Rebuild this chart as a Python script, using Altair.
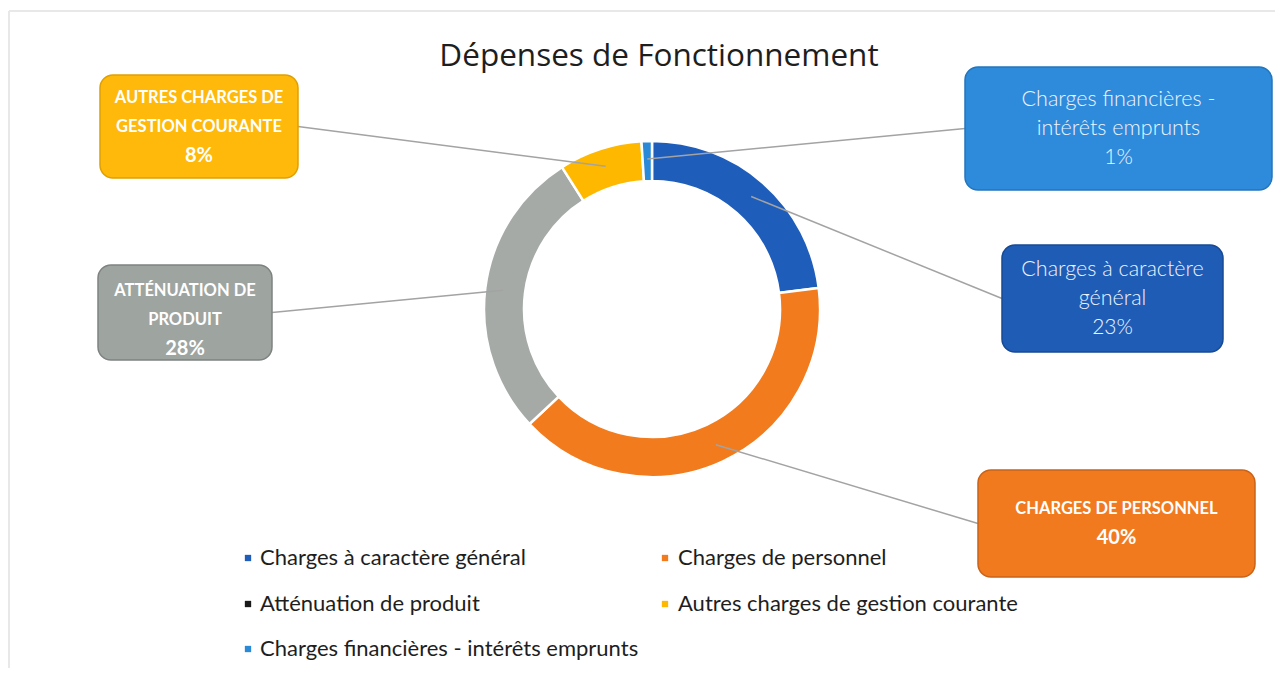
import math
import altair as alt
import pandas as pd

# ---------------- data ----------------
categories = [
    "Charges à caractère général",
    "Charges de personnel",
    "Atténuation de produit",
    "Autres charges de gestion courante",
    "Charges financières - intérêts emprunts",
]
shares = [23, 40, 28, 8, 1]
box_lines = [
    ["Charges à caractère", "général"],
    ["CHARGES DE PERSONNEL"],
    ["ATTÉNUATION DE", "PRODUIT"],
    ["AUTRES CHARGES DE", "GESTION COURANTE"],
    ["Charges financières -", "intérêts emprunts"],
]
title_text = "Dépenses de Fonctionnement"

# ---------------- styles / layout ----------------
slice_colors = ["#1F5DBA", "#F27B1D", "#A5AAA7", "#FFB800", "#2B8AD8"]
legend_colors = ["#1F5DBA", "#F27B1D", "#1A1A1A", "#FFB800", "#2B8AD8"]
box_fill = ["#1F5CB6", "#F27A1E", "#9EA4A0", "#FFB90A", "#2E8BDB"]
box_stroke = ["#174A94", "#C9631A", "#7E8380", "#E0A000", "#2375BD"]
box_style = ["plain", "caps", "caps", "caps", "plain"]
boxes = [
    (1002, 245, 1223, 352),
    (978, 470, 1255, 577),
    (98, 265, 272, 360),
    (100, 75, 298, 178),
    (965, 67, 1272, 190),
]
box_text_dy = [0, 0, 7, 0, 0]
W, H = 1267, 660
CX, CY = 652, 309
R_OUT, R_IN, R_LEAD = 168, 128, 150
LINE_H = 29
FONT = "Lato"

xs = alt.Scale(domain=[8, 8 + W], nice=False, zero=False)
ys = alt.Scale(domain=[8, 8 + H], nice=False, zero=False, reverse=True)


def X(f):
    return alt.X(f, type="quantitative", scale=xs, axis=None)


def Y(f):
    return alt.Y(f, type="quantitative", scale=ys, axis=None)


# ---------------- derived tables ----------------
slices = pd.DataFrame({"cat": categories, "share": shares, "idx": range(len(categories))})

lead_rows, box_rows, txt_plain, txt_caps, txt_pct = [], [], [], [], []
cum = 0
for i, (cat, s) in enumerate(zip(categories, shares)):
    mid = (cum + s / 2) / 100 * 2 * math.pi
    cum += s
    ix = CX + R_LEAD * math.sin(mid)
    iy = CY - R_LEAD * math.cos(mid)
    x1, y1, x2, y2 = boxes[i]
    bcx, bcy = (x1 + x2) / 2, (y1 + y2) / 2
    ox = x1 if bcx > CX else x2
    lead_rows.append({"x": ix, "y": iy, "x2": ox, "y2": bcy})
    box_rows.append({"cat": cat, "x": x1, "y": y1, "x2": x2, "y2": y2,
                     "fill": box_fill[i], "stroke": box_stroke[i]})
    lines = box_lines[i] + [f"{s}%"]
    n = len(lines)
    for k, t in enumerate(lines):
        ty = bcy + box_text_dy[i] + (k - (n - 1) / 2) * LINE_H
        row = {"x": bcx, "y": ty, "t": t}
        if k == n - 1:
            row["style"] = box_style[i]
            txt_pct.append(row)
        elif box_style[i] == "plain":
            txt_plain.append(row)
        else:
            txt_caps.append(row)

leg_mx = [248, 665]
leg_tx = [260, 678]
leg_y = [558, 604, 649]
legend = pd.DataFrame({
    "cat": categories,
    "mx": [leg_mx[i % 2] for i in range(len(categories))],
    "tx": [leg_tx[i % 2] for i in range(len(categories))],
    "y": [leg_y[i // 2] for i in range(len(categories))],
    "col": legend_colors,
})

pct_plain = pd.DataFrame([r for r in txt_pct if r["style"] == "plain"])
pct_caps = pd.DataFrame([r for r in txt_pct if r["style"] == "caps"])

# ---------------- layers ----------------
frame = alt.Chart(pd.DataFrame({"x": [9, 9], "y": [11, 11], "x2": [8 + W, 9], "y2": [11, 8 + H]})).mark_rule(
    color="#E8E8E8", strokeWidth=2
).encode(x=X("x"), y=Y("y"), x2=alt.X2("x2"), y2=alt.Y2("y2"))

donut = alt.Chart(slices).mark_arc(
    innerRadius=R_IN, outerRadius=R_OUT, stroke="white", strokeWidth=2.5
).encode(
    theta=alt.Theta("share:Q", stack=True),
    order=alt.Order("idx:Q"),
    color=alt.Color("cat:N", scale=alt.Scale(domain=categories, range=slice_colors), legend=None),
    x=alt.value(CX - 8),
    y=alt.value(CY - 8),
)

leads = alt.Chart(pd.DataFrame(lead_rows)).mark_rule(color="#A3A3A3", strokeWidth=1.5).encode(
    x=X("x"), y=Y("y"), x2=alt.X2("x2"), y2=alt.Y2("y2")
)

box_marks = alt.Chart(pd.DataFrame(box_rows)).mark_rect(cornerRadius=13, strokeWidth=1.5).encode(
    x=X("x"), y=Y("y"), x2=alt.X2("x2"), y2=alt.Y2("y2"),
    fill=alt.Fill("fill:N", scale=None),
    stroke=alt.Stroke("stroke:N", scale=None),
)

t_plain = alt.Chart(pd.DataFrame(txt_plain)).mark_text(
    font=FONT, fontSize=21.5, fontWeight=300, color="#EEF4FF", align="center", baseline="middle"
).encode(x=X("x"), y=Y("y"), text="t:N")

t_caps = alt.Chart(pd.DataFrame(txt_caps)).mark_text(
    font=FONT, fontSize=16.5, fontWeight="bold", color="white", align="center", baseline="middle"
).encode(x=X("x"), y=Y("y"), text="t:N")

t_pct_plain = alt.Chart(pct_plain).mark_text(
    font=FONT, fontSize=21, fontWeight=300, color="#EEF4FF", align="center", baseline="middle"
).encode(x=X("x"), y=Y("y"), text="t:N")

t_pct_caps = alt.Chart(pct_caps).mark_text(
    font=FONT, fontSize=20, fontWeight="bold", color="white", align="center", baseline="middle"
).encode(x=X("x"), y=Y("y"), text="t:N")

title = alt.Chart(pd.DataFrame({"x": [659], "y": [57], "t": [title_text]})).mark_text(
    font="Open Sans", fontSize=31.5, color="#1E1E1E", align="center", baseline="middle"
).encode(x=X("x"), y=Y("y"), text="t:N")

leg_sq = alt.Chart(legend).mark_square(size=40, opacity=1, filled=True).encode(
    x=X("mx"), y=Y("y"), color=alt.Color("col:N", scale=None)
)
leg_txt = alt.Chart(legend).mark_text(
    font=FONT, fontSize=22, color="#1E1E1E", align="left", baseline="middle"
).encode(x=X("tx"), y=Y("y"), text="cat:N")

chart = alt.layer(
    frame, donut, leads, box_marks, t_plain, t_caps, t_pct_plain, t_pct_caps, title, leg_sq, leg_txt
).properties(
    width=W, height=H, autosize="none", padding=0, background="white"
).configure_view(stroke=None)

chart.save("out.html", embed_options={"renderer": "svg", "actions": False})
